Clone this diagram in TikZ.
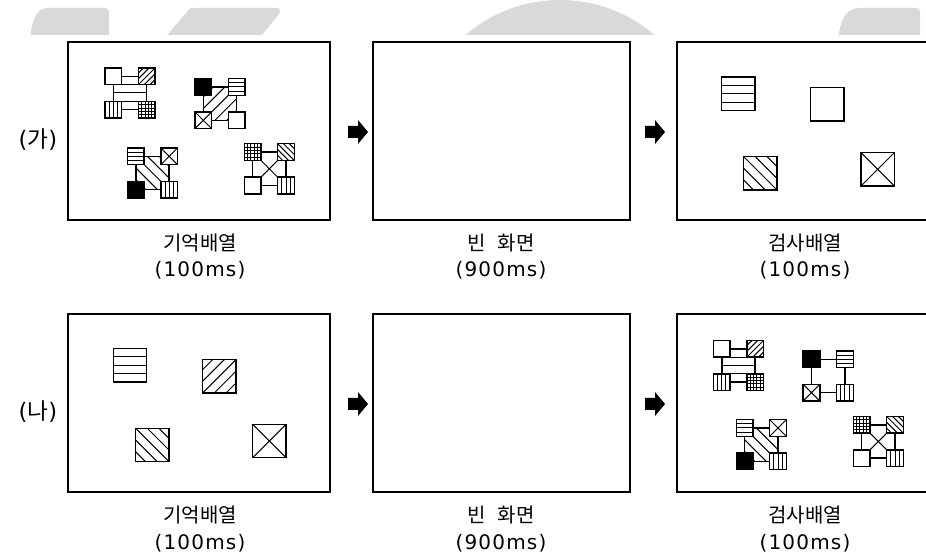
\documentclass[tikz,border=0pt]{standalone}
\usepackage{fontspec}
\newfontfamily\kr{Noto Sans CJK KR}
\newfontfamily\lat[LetterSpace=6]{DejaVu Sans}
\tikzset{
  panel/.style={draw=black, line width=1.5pt},
  sqline/.style={draw=black, line width=1.1pt},
  patline/.style={draw=black, line width=0.75pt},
  lbl/.style={font=\kr\fontsize{15pt}{17pt}\selectfont, inner sep=0pt},
  ms/.style={font=\lat\fontsize{15pt}{17pt}\selectfont, inner sep=0pt},
  row/.style={font=\fontsize{17pt}{19pt}\selectfont, inner sep=0pt},
  wm/.style={fill=black!15, draw=none}
}
% patterns, argument = half side (px)
\newcommand\patW[1]{}
\newcommand\patK[1]{\fill[black] (-#1,-#1) rectangle (#1,#1);}
\newcommand\patH[1]{\foreach \t in {-0.5,0,0.5}{\draw[patline] (-#1,{\t*#1}) -- (#1,{\t*#1});}}
\newcommand\patV[1]{\foreach \t in {-0.5,0,0.5}{\draw[patline] ({\t*#1},-#1) -- ({\t*#1},#1);}}
\newcommand\patG[1]{\foreach \t in {-0.6,-0.2,0.2,0.6}{\draw[patline] ({\t*#1},-#1) -- ({\t*#1},#1); \draw[patline] (-#1,{\t*#1}) -- (#1,{\t*#1});}}
\newcommand\patF[1]{\foreach \t in {-1.4,-0.7,0,0.7,1.4}{\draw[patline] ({\t*#1/2-2*#1},{\t*#1/2+2*#1}) -- ({\t*#1/2+2*#1},{\t*#1/2-2*#1});}}
\newcommand\patB[1]{\foreach \t in {-1.4,-0.7,0,0.7,1.4}{\draw[patline] ({\t*#1/2-2*#1},{-(\t)*#1/2-2*#1}) -- ({\t*#1/2+2*#1},{-(\t)*#1/2+2*#1});}}
\newcommand\patX[1]{\draw[patline] (-#1,-#1) -- (#1,#1) (-#1,#1) -- (#1,-#1);}
% square: x, y, half side, pattern letter
\newcommand\psq[4]{%
  \begin{scope}[shift={(#1,#2)}]
    \fill[white] (-#3,-#3) rectangle (#3,#3);
    \begin{scope}
      \clip (-#3,-#3) rectangle (#3,#3);
      \csname pat#4\endcsname{#3}
    \end{scope}
    \draw[sqline] (-#3,-#3) rectangle (#3,#3);
  \end{scope}}
% compound object: x, y, centre, tl, tr, bl, br
\newcommand\cobj[7]{%
  \psq{#1}{#2}{16.7}{#3}%
  \psq{#1-16.7}{#2-16.7}{8.35}{#4}%
  \psq{#1+16.7}{#2-16.7}{8.35}{#5}%
  \psq{#1-16.7}{#2+16.7}{8.35}{#6}%
  \psq{#1+16.7}{#2+16.7}{8.35}{#7}}
% block arrow: tip x, y
\newcommand\barrow[2]{%
  \fill[black] (#1-20,#2-6) -- (#1-10,#2-6) -- (#1-10,#2-12) -- (#1,#2) -- (#1-10,#2+12) -- (#1-10,#2+6) -- (#1-20,#2+6) -- cycle;}
\begin{document}
\begin{tikzpicture}[x=0.75pt,y=-0.75pt]
\useasboundingbox (0,0) rectangle (926,559);
\clip (0,0) rectangle (926,559);
% faint background marks along the top edge
\begin{scope}
  \clip (0,0) rectangle (926,35);
  \fill[wm] (30,40) .. controls (32,20) and (36,8) .. (48,8) -- (104,8) .. controls (108,8) and (109,10) .. (109,14) -- (109,40) -- cycle;
  \fill[wm] (163,40) -- (187,12) .. controls (189,9) and (190,8) .. (194,8) -- (276,8) .. controls (280,8) and (281,10) .. (279,14) -- (258,40) -- cycle;
  \fill[wm] (560,145) circle (145);
  \fill[wm] (838,40) .. controls (840,20) and (846,8) .. (860,8) -- (915,8) .. controls (919,8) and (920,10) .. (920,14) -- (920,40) -- cycle;
\end{scope}
% panels
\draw[panel] (68,42) rectangle (330,220);
\draw[panel] (373,42) rectangle (630,220);
\draw[panel] (677,42) rectangle (940,220);
\draw[panel] (68,314) rectangle (330,492);
\draw[panel] (373,314) rectangle (630,492);
\draw[panel] (677,314) rectangle (940,492);
% top row: memory array
\cobj{130}{93}{H}{W}{F}{V}{G}
\cobj{220}{103.6}{F}{K}{H}{X}{W}
\cobj{152.5}{173}{B}{H}{X}{K}{V}
\cobj{269.3}{168.8}{X}{G}{B}{W}{V}
% top row: test array
\psq{738.3}{93.7}{16.7}{H}
\psq{827.3}{104.3}{16.7}{W}
\psq{760.3}{173.3}{16.7}{B}
\psq{877.7}{169.3}{16.7}{X}
% bottom row: memory array
\psq{130}{365.3}{16.7}{H}
\psq{219.3}{376.3}{16.7}{F}
\psq{152.3}{445}{16.7}{B}
\psq{269.3}{441}{16.7}{X}
% bottom row: test array
\cobj{738.5}{365.5}{H}{W}{F}{V}{G}
\cobj{828.2}{376}{W}{K}{H}{X}{V}
\cobj{761.3}{444.7}{B}{H}{X}{K}{V}
\cobj{878.3}{441.5}{X}{G}{B}{W}{V}
% arrows
\barrow{368}{132}
\barrow{665}{132}
\barrow{368}{404}
\barrow{665}{404}
% labels
\node[row] (ga) at (38,140) {\lat(\kr 가\lat)};
\node[row] (na) at (38,412) {\lat(\kr 나\lat)};
\node[lbl] (t1a) at (200,243) {기억배열};
\node[ms] (t1b) at (200,270) {(100ms)};
\node[lbl] (t2a) at (501,243) {빈\hspace{0.6em}화면};
\node[ms] (t2b) at (501,270) {(900ms)};
\node[lbl] (t3a) at (805,243) {검사배열};
\node[ms] (t3b) at (805,270) {(100ms)};
\node[lbl] (b1a) at (200,515) {기억배열};
\node[ms] (b1b) at (200,543) {(100ms)};
\node[lbl] (b2a) at (501,515) {빈\hspace{0.6em}화면};
\node[ms] (b2b) at (501,543) {(900ms)};
\node[lbl] (b3a) at (805,515) {검사배열};
\node[ms] (b3b) at (805,543) {(100ms)};
\end{tikzpicture}
\end{document}
